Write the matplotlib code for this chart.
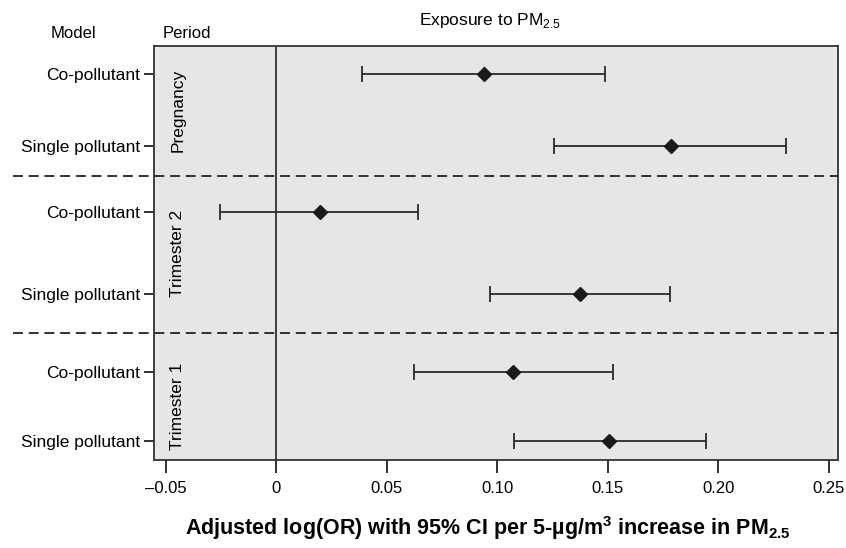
import matplotlib
matplotlib.use("Agg")
import matplotlib.pyplot as plt
import numpy as np

# Estimates per 5-ug/m3 increase in PM2.5, top row first
models = ["Co-pollutant", "Single pollutant",
          "Co-pollutant", "Single pollutant",
          "Co-pollutant", "Single pollutant"]
periods = ["Pregnancy", "Trimester 2", "Trimester 1"]
log_or = [0.0939, 0.1784, 0.0196, 0.1376, 0.1069, 0.1504]
ci_low = [0.0389, 0.1257, -0.0255, 0.0969, 0.0624, 0.1076]
ci_high = [0.1485, 0.2307, 0.0642, 0.1783, 0.1521, 0.1943]
xticks = [-0.05, 0, 0.05, 0.10, 0.15, 0.20, 0.25]
xtick_labels = ["\u20130.05", "0", "0.05", "0.10", "0.15", "0.20", "0.25"]

# Vertical layout of rows and group separators (axes units)
row_y = [0.932, 0.758, 0.598, 0.400, 0.213, 0.047]
sep_y = [0.686, 0.307]

plt.rcParams["font.family"] = ["Liberation Sans", "DejaVu Sans"]
plt.rcParams["mathtext.fontset"] = "custom"
plt.rcParams["mathtext.rm"] = "Liberation Sans"
plt.rcParams["mathtext.bf"] = "Liberation Sans:bold"

fig = plt.figure(figsize=(8.46, 5.48), dpi=100)
ax = fig.add_axes([154 / 846, 88 / 548, 684 / 846, 414 / 548])
ax.set_facecolor("#e6e6e6")

x = np.array(log_or)
err = np.vstack([x - np.array(ci_low), np.array(ci_high) - x])
ax.errorbar(x, row_y, xerr=err, fmt="D", color="#1a1a1a", ecolor="#2a2a2a",
            markersize=7, elinewidth=1.3, capsize=5.5, capthick=1.3, zorder=3)

ax.axvline(0, color="#222222", lw=1.2, zorder=2)
for yy in sep_y:
    ax.plot([-0.206, 1.0], [yy, yy], transform=ax.transAxes, color="#222222",
            lw=1.3, linestyle=(0, (5.5, 3.2)), clip_on=False, zorder=4)

ax.set_xlim(-0.0553, 0.2541)
ax.set_ylim(0, 1)
ax.set_xticks(xticks)
ax.set_xticklabels(xtick_labels, fontsize=12)
ax.set_yticks(row_y)
ax.set_yticklabels(models, fontsize=12.5)
ax.tick_params(axis="x", length=9, width=1.3, color="#222222", pad=6)
ax.tick_params(axis="y", length=7, width=1.3, color="#222222", pad=3)
for s in ax.spines.values():
    s.set_linewidth(1.3)
    s.set_color("#333333")

# Period names run vertically inside the panel
for name, i in zip(periods, [0, 2, 4]):
    yc = (row_y[i] + row_y[i + 1]) / 2
    ax.text(0.035, yc, name, rotation=90, ha="center", va="center",
            fontsize=12.5, transform=ax.transAxes)

fig.text(73 / 846, 1 - 33 / 548, "Model", ha="center", va="center", fontsize=12)
fig.text(163 / 846, 1 - 33 / 548, "Period", ha="left", va="center", fontsize=12)
fig.text(490 / 846, 1 - 21 / 548, r"Exposure to PM$_{2.5}$", ha="center",
         va="center", fontsize=12.5)
fig.text(488 / 846, 1 - 528 / 548,
         "Adjusted log(OR) with 95% CI per 5-\u00b5g/m$^\\mathbf{3}$ increase in PM$_\\mathbf{2.5}$",
         ha="center", va="center", fontsize=15.5, fontweight="bold")

fig.savefig("out.png", dpi=100)
